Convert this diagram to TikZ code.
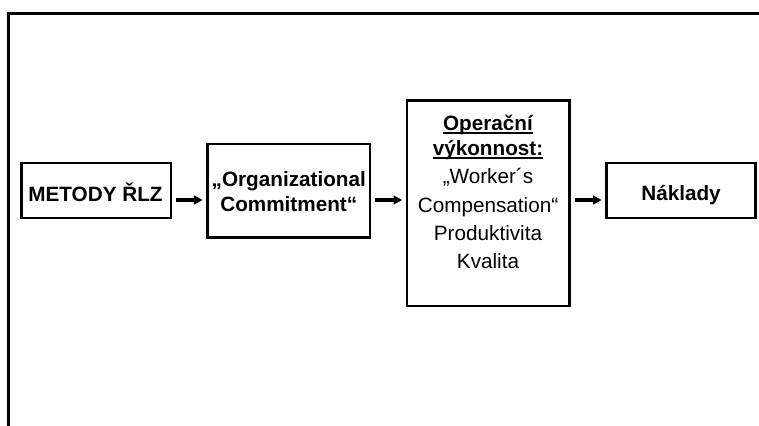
\documentclass[tikz,border=0pt]{standalone}
\usepackage{fontspec}
\setmainfont{Liberation Sans}
\usetikzlibrary{arrows.meta}
\newcommand\myul[1]{\setbox0\hbox{#1}\rlap{\rule[-3.7pt]{\wd0}{1.5pt}}\box0}
\begin{document}
\begin{tikzpicture}[x=1pt,y=-1pt,
  box/.style={draw, line width=2.4pt, inner sep=0pt},
  txtb/.style={anchor=base, inner sep=0pt, font=\fontsize{20.7}{24}\selectfont\bfseries},
  txtr/.style={anchor=base, inner sep=0pt, font=\fontsize{20.7}{24}\selectfont},
  arr/.style={line width=3.2pt, -{Triangle[length=8.5pt,width=8.5pt]}, shorten <=4pt, shorten >=3.6pt}]
\useasboundingbox (0,0) rectangle (759,425);
\clip (0,0) rectangle (759,425);
% frame
\draw[line width=3.2pt] (8.5,432) -- (8.5,13.5) -- (766,13.5);
% boxes
\node[box, minimum width=149.5pt, minimum height=55.3pt] (b1) at (96.25,190.6) {};
\node[box, minimum width=162.5pt, minimum height=93.5pt] (b2) at (288.75,190.75) {};
\node[box, minimum width=162.5pt, minimum height=205.5pt] (b3) at (488.25,203.25) {};
\node[box, minimum width=149pt, minimum height=55.3pt] (b4) at (681,190.6) {};
% texts
\node[txtb] (t1) at (95.5,201) {METODY ŘLZ};
\node[txtb] (t2a) at (288.75,186.7) {„Organizational};
\node[txtb] (t2b) at (288.75,211.7) {Commitment“};
\node[txtb] (t3a) at (488,130) {\myul{Operační}};
\node[txtb] (t3b) at (488,155) {\myul{výkonnost:}};
\node[txtr] (t3c) at (488,183) {„Worker´s};
\node[txtr] (t3d) at (488,212) {Compensation“};
\node[txtr] (t3e) at (488,240) {Produktivita};
\node[txtr] (t3f) at (488,268) {Kvalita};
\node[txtb] (t4) at (681,200.5) {Náklady};
% arrows
\coordinate (ay) at (0,200);
\draw[arr] (b1.east |- ay) -- (b2.west |- ay);
\draw[arr] (b2.east |- ay) -- (b3.west |- ay);
\draw[arr] (b3.east |- ay) -- (b4.west |- ay);
\end{tikzpicture}
\end{document}
